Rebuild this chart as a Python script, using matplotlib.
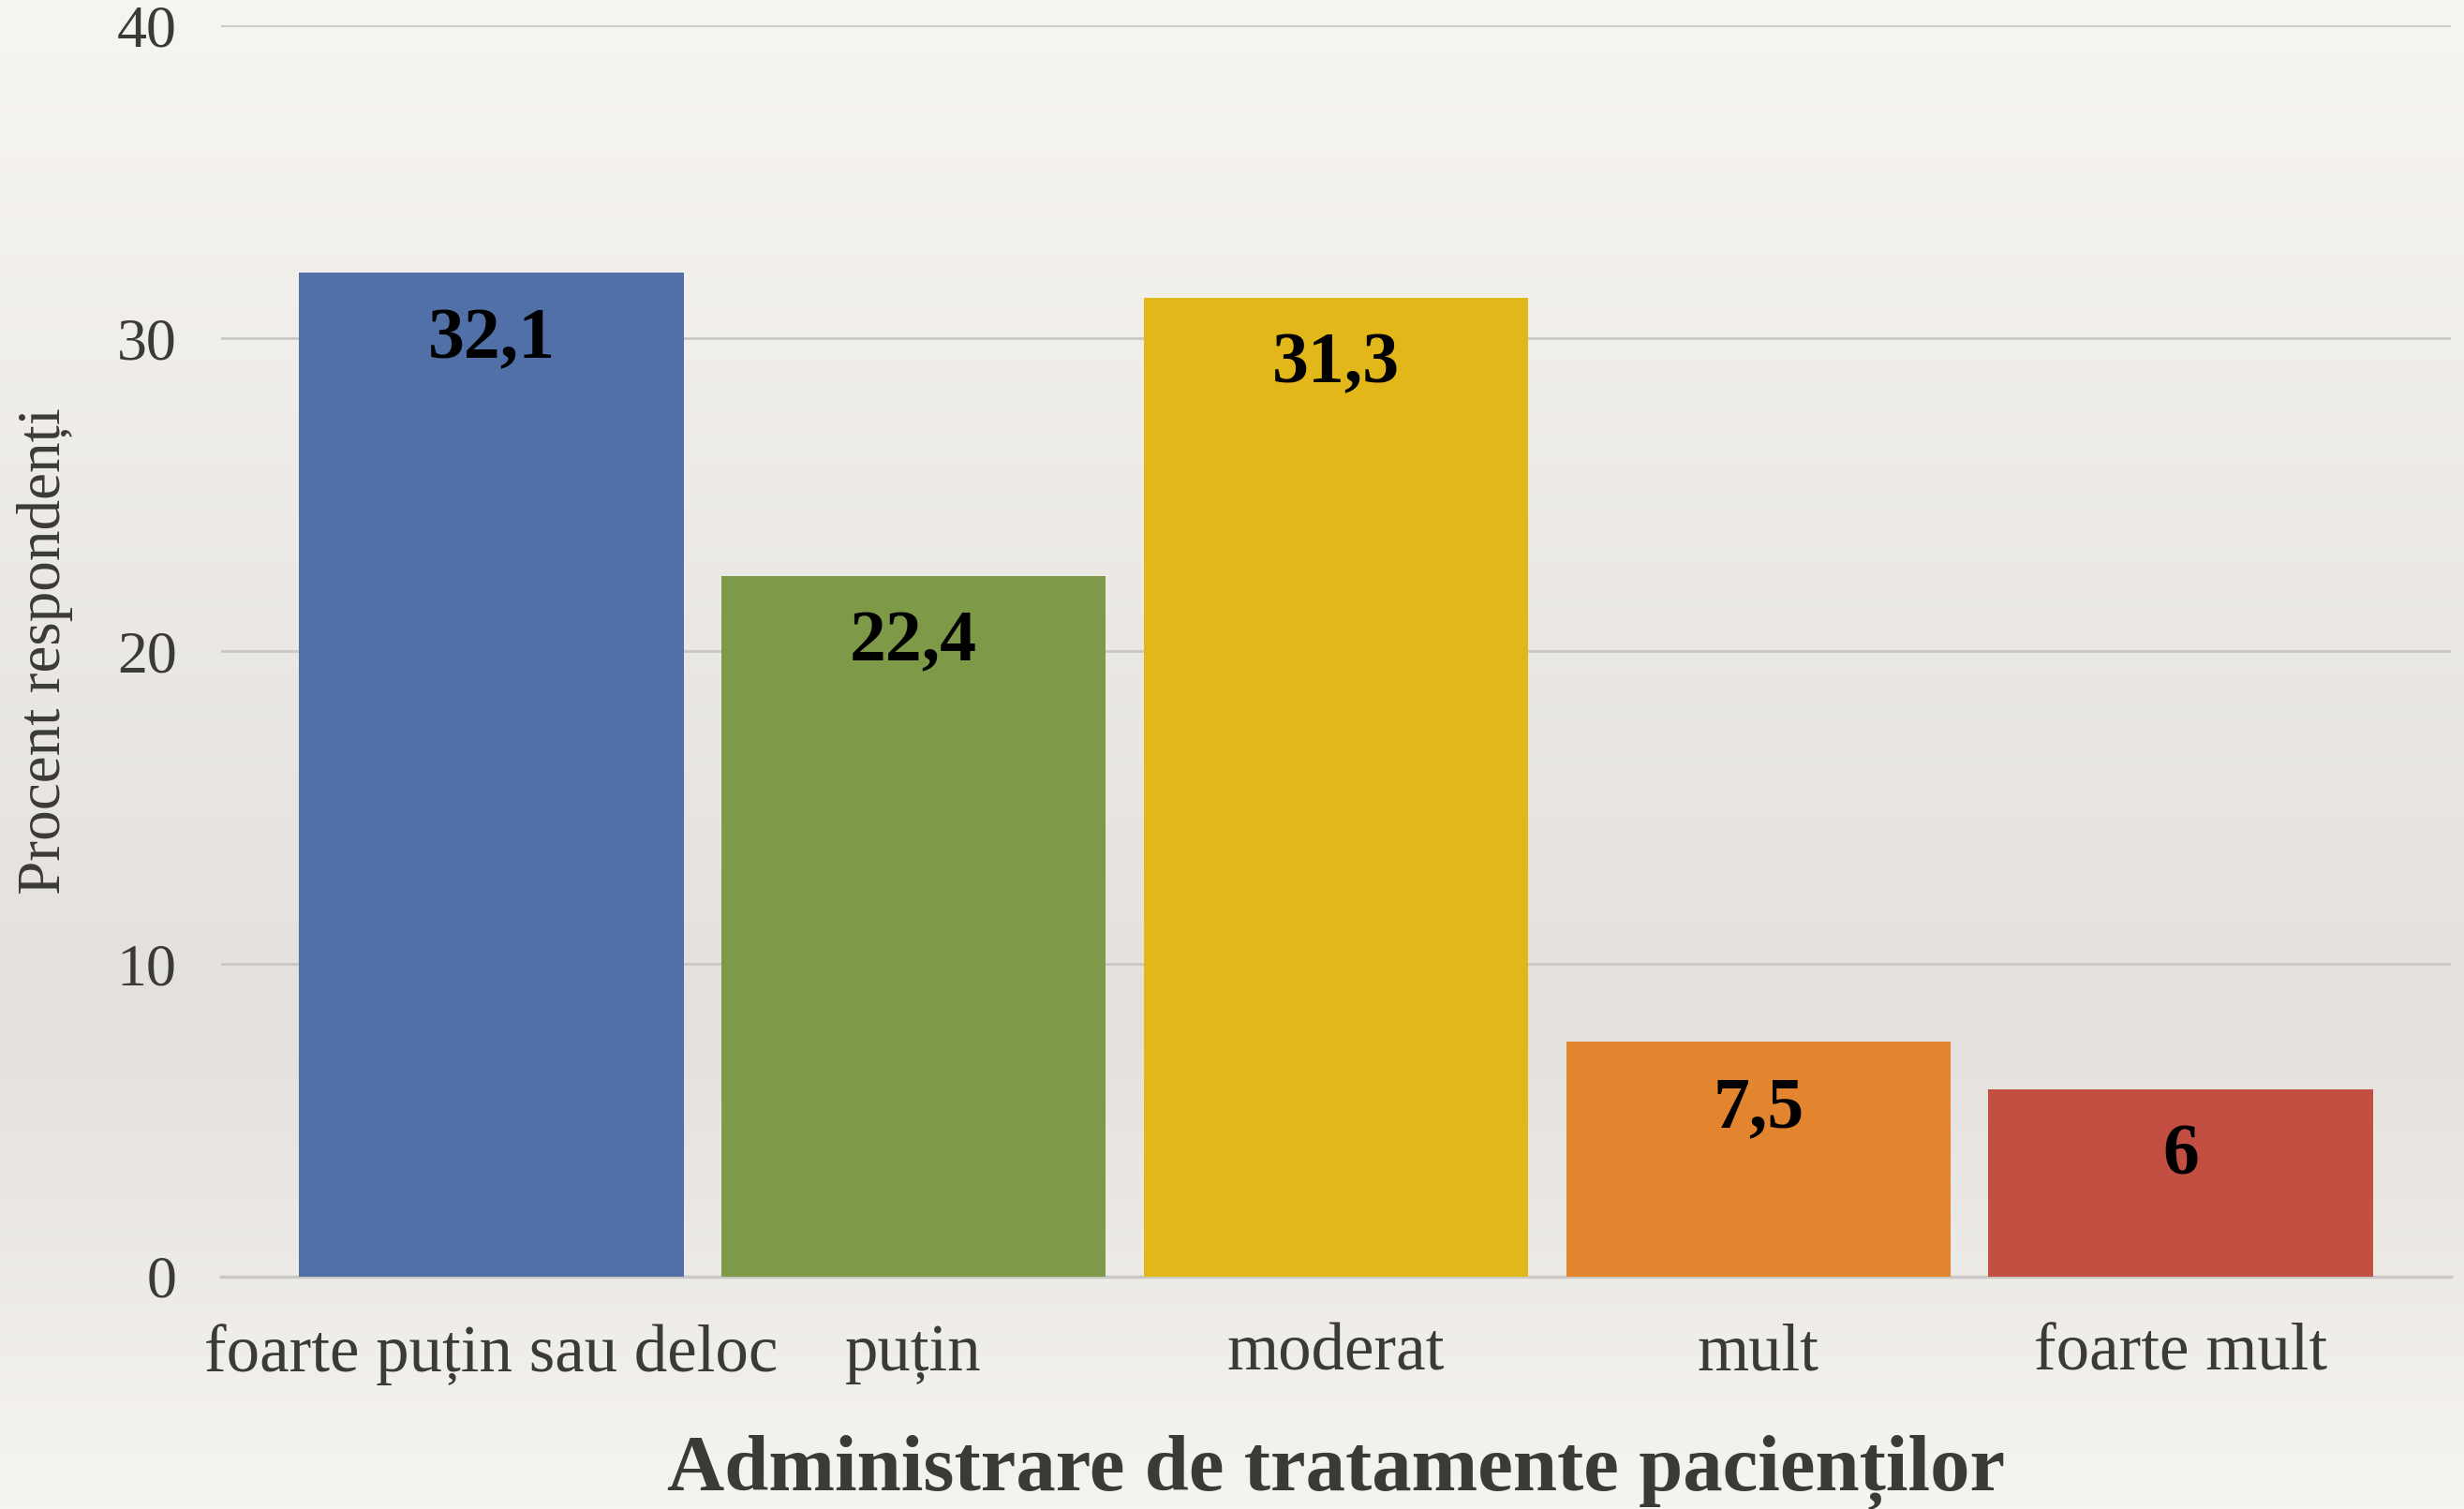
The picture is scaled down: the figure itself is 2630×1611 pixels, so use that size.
import numpy as np
import matplotlib
matplotlib.use("Agg")
import matplotlib.pyplot as plt

kategorie = ["foarte puțin sau deloc", "puțin", "moderat", "mult", "foarte mult"]
procenta = [32.1, 22.4, 31.3, 7.5, 6]
popisky = ["32,1", "22,4", "31,3", "7,5", "6"]
barvy = ["#5170a7", "#7e9a48", "#e2b719", "#e2852e", "#c34e42"]
y_ticks = [0, 10, 20, 30, 40]

plt.rcParams['font.family'] = ['Liberation Serif', 'DejaVu Serif']

fig = plt.figure(figsize=(26.3, 16.11), dpi=100)

# pozadi - svisly prechod barvy
bg = fig.add_axes([0, 0, 1, 1], zorder=-10)
t = np.linspace(0, 1, 300)
top = np.array([247, 245, 240]) / 255
mid = np.array([228, 225, 220]) / 255
bot = np.array([246, 244, 239]) / 255
w = np.clip(t / 0.68, 0, 1)[:, None]
col = np.where(t[:, None] < 0.68, top * (1 - w) + mid * w,
               mid * (1 - (t[:, None] - 0.68) / 0.32) + bot * ((t[:, None] - 0.68) / 0.32))
bg.imshow(col[:, None, :], aspect="auto", extent=[0, 1, 1, 0])
bg.set_axis_off()

ax = fig.add_axes([0.0897, 0.154, 0.905, 0.829])
ax.patch.set_alpha(0)
x = np.arange(len(kategorie))
ax.bar(x, procenta, width=0.91, color=barvy, zorder=3)

for xi, v, lab in zip(x, procenta, popisky):
    ax.annotate(lab, (xi, v), xytext=(0, -52), textcoords="offset points",
                ha="center", va="center", fontsize=56, fontweight="bold",
                color="black", zorder=4)

ax.set_xlim(-0.64, 4.64)
ax.set_ylim(0, 40)
ax.set_yticks(y_ticks)
ax.set_xticks(x)
ax.set_xticklabels(kategorie)
ax.tick_params(axis="both", length=0, colors="#3a3a38")
ax.tick_params(axis="y", pad=34, labelsize=46)
ax.tick_params(axis="x", pad=36, labelsize=51)
ax.grid(axis="y", color="#c9c8c4", linewidth=2, zorder=0)
for s in ["top", "right", "left"]:
    ax.spines[s].set_visible(False)
ax.spines["bottom"].set_color("#c9c8c4")
ax.spines["bottom"].set_linewidth(2.5)

ax.set_ylabel("Procent respondenți", fontsize=47, color="#3a3a38", labelpad=34)
ax.set_xlabel("Administrare de tratamente pacienților", fontsize=61,
              fontweight="bold", color="#3a3a38", labelpad=38)

fig.savefig("out.png", dpi=100)
